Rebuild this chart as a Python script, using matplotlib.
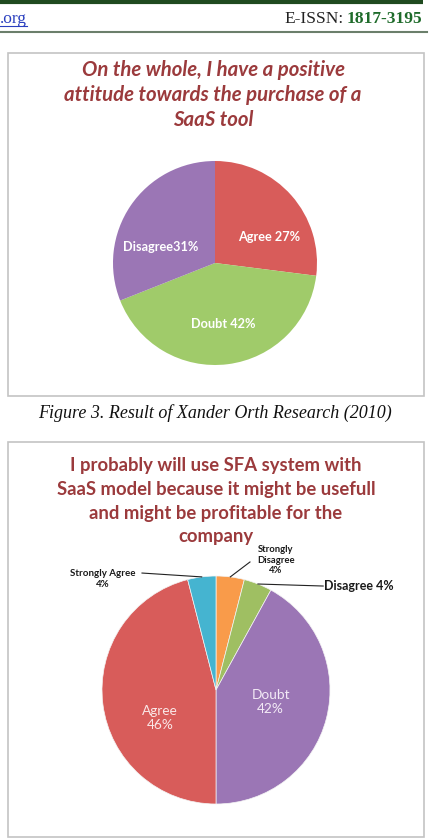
import numpy as np
import matplotlib
matplotlib.use("Agg")
import matplotlib.pyplot as plt
from matplotlib.patches import Rectangle

# ── data ────────────────────────────────────────────────────────────────
pie1_labels = ["Agree", "Doubt", "Disagree"]
pie1_values = [27, 42, 31]
pie1_title = ["On the whole, I have a positive",
              "attitude towards the purchase of a",
              "SaaS tool"]

pie2_labels = ["Strongly Disagree", "Disagree", "Doubt", "Agree", "Strongly Agree"]
pie2_values = [4, 4, 42, 46, 4]
pie2_title = ["I probably will use SFA system with",
              "SaaS model because it might be usefull",
              "and might be profitable for the",
              "company"]

caption = "Figure 3. Result of Xander Orth Research (2010)"

# ── styles ──────────────────────────────────────────────────────────────
W, H = 432, 840
TITLE_C = "#9b3a3c"
SANS = ["Lato", "DejaVu Sans"]
SERIF = ["Liberation Serif", "DejaVu Serif"]
pie1_colors = ["#d85c5a", "#a0cb6a", "#9b76b5"]
pie2_colors = ["#f99b4a", "#9fbf62", "#9b76b5", "#d85c5a", "#45b4d0"]

fig = plt.figure(figsize=(W / 100, H / 100), dpi=100)
bg = fig.add_axes([0, 0, 1, 1])
bg.set_xlim(0, W)
bg.set_ylim(H, 0)
bg.axis("off")

# header
bg.plot([0, 423], [1.5, 1.5], color="#1f4a1f", lw=3, solid_capstyle="butt")
bg.plot([0, 427], [32, 32], color="#6b7f6b", lw=1.5)
bg.text(0, 19, ".org", family=SERIF, fontsize=12.5, color="#2a3fbf", va="center")
bg.plot([0, 27], [26, 26], color="#2a3fbf", lw=0.8)
bg.text(422, 19, "1817-3195", family=SERIF, fontsize=12.5, color="#1e6b2a",
        fontweight="bold", va="center", ha="right")
bg.text(344, 19, "E-ISSN:", family=SERIF, fontsize=12.5, color="#222222",
        va="center", ha="right")

# boxes
for y0, y1 in [(53, 396), (442, 837)]:
    bg.add_patch(Rectangle((8, y0), 416, y1 - y0, facecolor="white",
                           edgecolor="#c4c4c4", lw=1.2))

# titles + caption
for i, line in enumerate(pie1_title):
    bg.text(213, 70 + i * 25, line, family=SANS, fontsize=14.7, color=TITLE_C,
            fontweight="bold", style="italic", ha="center", va="center")
for i, line in enumerate(pie2_title):
    bg.text(216, 466 + i * 23.5, line, family=SANS, fontsize=13.3, color=TITLE_C,
            fontweight="bold", ha="center", va="center")
bg.text(215, 413, caption, family=SERIF, fontsize=13, style="italic",
        color="#111111", ha="center", va="center")


def pie_axes(cx, cy, r):
    ax = fig.add_axes([(cx - r) / W, (H - cy - r) / H, 2 * r / W, 2 * r / H])
    return ax


# ── pie 1 ───────────────────────────────────────────────────────────────
ax1 = pie_axes(215, 263, 102)
wedges1, _ = ax1.pie(pie1_values, colors=pie1_colors, startangle=90,
                     counterclock=False, radius=1)
ax1.set_xlim(-1, 1)
ax1.set_ylim(-1, 1)
ax1.set_aspect("equal")
lab1_pos = [(0.53, 0.255), (0.078, -0.598), (-0.529, 0.157)]
lab1_sep = [" ", " ", ""]
for name, v, (x, y), s in zip(pie1_labels, pie1_values, lab1_pos, lab1_sep):
    ax1.text(x, y, f"{name}{s}{v}%", family=SANS, fontsize=9.2, color="white",
             fontweight="bold", ha="center", va="center")

# ── pie 2 ───────────────────────────────────────────────────────────────
ax2 = pie_axes(216, 690, 114)
wedges2, _ = ax2.pie(pie2_values, colors=pie2_colors, startangle=90,
                     counterclock=False, radius=1,
                     wedgeprops=dict(edgecolor="#f4f4f4", linewidth=0.5))
ax2.set_xlim(-1, 1)
ax2.set_ylim(-1, 1)
ax2.set_aspect("equal")

# inside labels (Doubt, Agree)
inside = {"Doubt": ((0.48, -0.105), "#f3eaf6"), "Agree": ((-0.49, -0.246), "#fae8e8")}
for name, v in zip(pie2_labels, pie2_values):
    if name in inside:
        (x, y), c = inside[name]
        ax2.text(x, y, f"{name}\n{v}%", family=SANS, fontsize=9.8, color=c,
                 ha="center", va="center", linespacing=1.25)

# outside labels with leader lines: (line end, text pos, ha, size, text)
outside = {
    "Strongly Disagree": ((0.298, 1.123), (0.526, 1.14), "center", 6.8, "Strongly\nDisagree\n{v}%"),
    "Disagree": ((0.94, 0.912), (0.95, 0.912), "left", 9, "Disagree {v}%"),
    "Strongly Agree": ((-0.649, 1.026), (-0.99, 0.975), "center", 7, "Strongly Agree\n{v}%"),
}
for w, name, v in zip(wedges2, pie2_labels, pie2_values):
    if name not in outside:
        continue
    (lx, ly), (tx, ty), ha, fs, fmt = outside[name]
    mid = np.deg2rad((w.theta1 + w.theta2) / 2)
    px, py = np.cos(mid), np.sin(mid)
    ax2.plot([px, lx], [py, ly], color="#222222", lw=0.8, clip_on=False)
    ax2.text(tx, ty, fmt.format(v=v), family=SANS, fontsize=fs, color="#1a1a1a",
             fontweight="bold", ha=ha, va="center", linespacing=1.2)

fig.savefig("out.png", dpi=100)
